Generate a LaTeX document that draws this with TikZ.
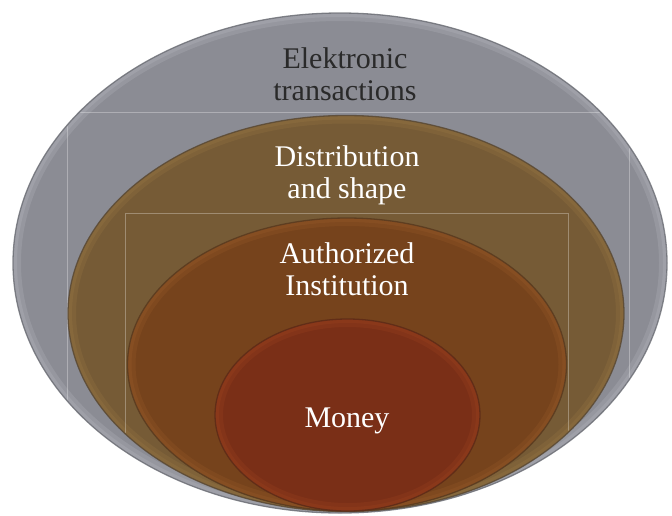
\documentclass[tikz,border=0pt]{standalone}
\usepackage{fontspec}
\setmainfont{Liberation Serif}
\definecolor{grayBase}{HTML}{8B8C94}
\definecolor{grayRim}{HTML}{B0B2B9}
\definecolor{grayLine}{HTML}{6A6C73}
\definecolor{oliveBase}{HTML}{765B36}
\definecolor{oliveRim}{HTML}{957543}
\definecolor{oliveLine}{HTML}{574733}
\definecolor{brownBase}{HTML}{76431C}
\definecolor{brownRim}{HTML}{955829}
\definecolor{brownLine}{HTML}{56391F}
\definecolor{redBase}{HTML}{7A2F17}
\definecolor{redRim}{HTML}{98401E}
\definecolor{redLine}{HTML}{5A2A17}
\definecolor{darkText}{HTML}{2A2A2A}
% #1 centre, #2 x radius, #3 y radius, #4 base, #5 rim, #6 outline
\newcommand\bevelEllipse[6]{%
  \begin{scope}
    \clip #1 ellipse [x radius=#2, y radius=#3];
    \fill[#4] #1 ellipse [x radius=#2, y radius=#3];
    \draw[#5, draw opacity=0.3, line width=16pt] #1 ellipse [x radius=#2, y radius=#3];
    \draw[#5, draw opacity=0.35, line width=8pt] #1 ellipse [x radius=#2, y radius=#3];
  \end{scope}
  \draw[#6, ring] #1 ellipse [x radius=#2, y radius=#3];
}
\tikzset{
  ring/.style={line width=1.3pt, draw opacity=0.8},
  ghostbox/.style={draw=white, draw opacity=0.3, line width=0.6pt},
  label/.style={font=\fontsize{30}{31.5}\selectfont, align=center, inner sep=0pt, anchor=base},
}
\begin{document}
\begin{tikzpicture}[x=1pt,y=-1pt]
\useasboundingbox[fill=white] (0,0) rectangle (672,515);
% outer ellipse
\bevelEllipse{(340,263)}{327pt}{250pt}{grayBase}{grayRim}{grayLine}
\begin{scope}
  \clip (340,263) ellipse [x radius=326pt, y radius=249pt];
  \draw[ghostbox] (67,112) rectangle (629,530);
\end{scope}
% second ellipse
\bevelEllipse{(346,313.5)}{278pt}{198pt}{oliveBase}{oliveRim}{oliveLine}
\begin{scope}
  \clip (346,313.5) ellipse [x radius=277pt, y radius=197pt];
  \draw[ghostbox] (125,213) rectangle (568,530);
\end{scope}
% third ellipse
\bevelEllipse{(347,364.5)}{219.5pt}{146.5pt}{brownBase}{brownRim}{brownLine}
% inner ellipse
\bevelEllipse{(347.5,415)}{132.5pt}{96pt}{redBase}{redRim}{redLine}
% labels
\node[label, text=darkText] (elec) at (345,100) {Elektronic\\transactions};
\node[label, text=white] (dist) at (347,198) {Distribution\\and shape};
\node[label, text=white] (auth) at (347,295) {Authorized\\Institution};
\node[label, text=white] (money) at (347,427) {Money};
\end{tikzpicture}
\end{document}
